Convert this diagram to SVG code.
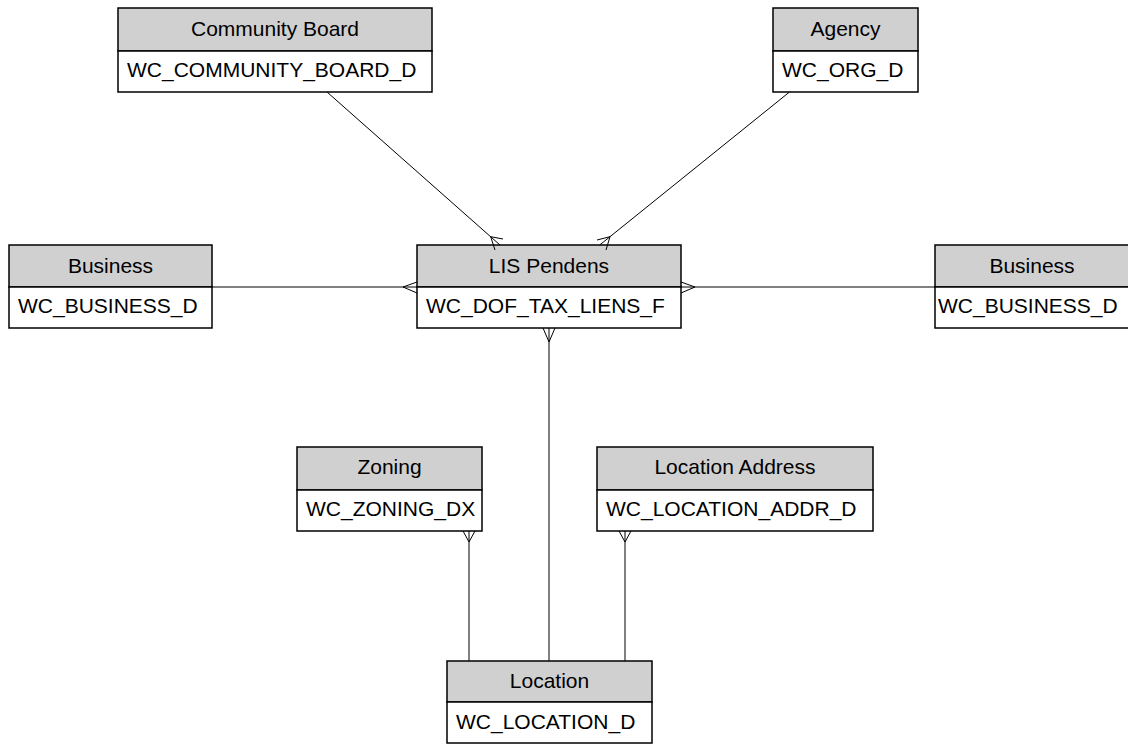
<svg xmlns="http://www.w3.org/2000/svg" width="1128" height="745" viewBox="0 0 1128 745">
<style>
.hd{fill:#d0d0d0;stroke:#000;stroke-width:1.5}
.bd{fill:#fff;stroke:#000;stroke-width:1.5}
.t{font-family:"Liberation Sans",Arial,sans-serif;font-size:21px;fill:#000}
.c{text-anchor:middle}
.ln{fill:none;stroke:#000;stroke-width:1}
</style>
<rect width="1128" height="745" fill="#fff"/>
<g id="community-board">
<rect class="hd" x="118" y="8" width="314" height="43"/>
<rect class="bd" x="118" y="51" width="314" height="41"/>
<text class="t c" x="275" y="35.5">Community Board</text>
<text class="t" x="127" y="77">WC_COMMUNITY_BOARD_D</text>
</g>
<g id="agency">
<rect class="hd" x="773" y="8" width="145" height="43"/>
<rect class="bd" x="773" y="51" width="145" height="41"/>
<text class="t c" x="845.5" y="35.5">Agency</text>
<text class="t" x="782" y="77">WC_ORG_D</text>
</g>
<g id="business-left">
<rect class="hd" x="9" y="245" width="203" height="42"/>
<rect class="bd" x="9" y="287" width="203" height="41"/>
<text class="t c" x="110.5" y="272.5">Business</text>
<text class="t" x="18" y="313">WC_BUSINESS_D</text>
</g>
<g id="lis-pendens">
<rect class="hd" x="417" y="245" width="264" height="42"/>
<rect class="bd" x="417" y="287" width="264" height="41"/>
<text class="t c" x="549" y="272.5">LIS Pendens</text>
<text class="t" x="426" y="313">WC_DOF_TAX_LIENS_F</text>
</g>
<g id="business-right">
<rect class="hd" x="935" y="245" width="194" height="42"/>
<rect class="bd" x="935" y="287" width="194" height="41"/>
<text class="t c" x="1032" y="272.5">Business</text>
<text class="t" x="938" y="313">WC_BUSINESS_D</text>
</g>
<g id="zoning">
<rect class="hd" x="297" y="447" width="185" height="43"/>
<rect class="bd" x="297" y="490" width="185" height="41"/>
<text class="t c" x="389.5" y="474">Zoning</text>
<text class="t" x="306" y="516">WC_ZONING_DX</text>
</g>
<g id="location-address">
<rect class="hd" x="597" y="447" width="276" height="43"/>
<rect class="bd" x="597" y="490" width="276" height="41"/>
<text class="t c" x="735" y="474">Location Address</text>
<text class="t" x="606" y="516">WC_LOCATION_ADDR_D</text>
</g>
<g id="location">
<rect class="hd" x="447" y="661" width="205" height="41"/>
<rect class="bd" x="447" y="702" width="205" height="41"/>
<text class="t c" x="549.5" y="688">Location</text>
<text class="t" x="456" y="728.5">WC_LOCATION_D</text>
</g>
<g id="connectors">
<path class="ln" d="M327,92 L500,245 M490.7,236.7 L503,239 M490.7,236.7 L495,250"/>
<path class="ln" d="M789.5,92 L599.7,245 M610,236.7 L597,240 M610,236.7 L606,250"/>
<path class="ln" d="M212,287 L417,287 M403,287 L417,282 M403,287 L417,293"/>
<path class="ln" d="M681,287 L935,287 M695,287 L681,282 M695,287 L681,293"/>
<path class="ln" d="M549,328 L549,661 M549,342 L543,328 M549,342 L555,328"/>
<path class="ln" d="M469,531 L469,661 M469,542 L463,531 M469,542 L475,531"/>
<path class="ln" d="M625,531 L625,661 M625,542 L619,531 M625,542 L631,531"/>
</g>
</svg>
